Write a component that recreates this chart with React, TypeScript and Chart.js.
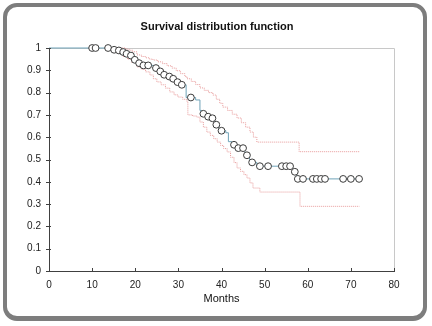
import React, { useEffect, useRef } from 'react';
import { Chart, registerables } from 'chart.js';
Chart.register(...registerables);

// Kaplan-Meier step function (event times and survival after each event)
const kmTimes = [0, 14.5, 15.7, 16.7, 17.6, 18.5, 19.4, 20.4, 21.4, 24.4, 25.3, 26.3, 27.3, 28.4, 29.3, 30.3, 31.8, 34.0, 35.0, 35.4, 36.4, 37.4, 38.4, 39.4, 41.0, 41.6, 42.4, 43.5, 45.4, 46.5, 46.8, 48.2, 56.5, 57.4, 72];
const kmSurv = [1, 0.992, 0.989, 0.982, 0.974, 0.966, 0.947, 0.932, 0.922, 0.91, 0.895, 0.88, 0.872, 0.862, 0.847, 0.835, 0.778, 0.767, 0.72, 0.705, 0.692, 0.685, 0.656, 0.629, 0.62, 0.58, 0.566, 0.551, 0.519, 0.5, 0.487, 0.47, 0.445, 0.413, 0.413];

// Censored observations
const censorTimes = [10.0, 10.8, 13.7, 15.1, 16.2, 17.2, 18.0, 19.0, 19.9, 20.9, 21.9, 23.0, 24.8, 25.8, 26.7, 27.9, 28.8, 29.8, 30.8, 32.9, 35.8, 36.9, 37.9, 38.8, 40.0, 42.9, 43.9, 45.0, 45.9, 47.1, 48.9, 50.8, 54.0, 55.0, 55.9, 57.0, 57.7, 58.9, 61.2, 62.1, 63.1, 64.0, 68.2, 70.0, 71.9];
const censorSurv = [1, 1, 1, 0.992, 0.989, 0.982, 0.974, 0.966, 0.947, 0.932, 0.922, 0.922, 0.91, 0.895, 0.88, 0.872, 0.862, 0.847, 0.835, 0.778, 0.705, 0.692, 0.685, 0.656, 0.629, 0.566, 0.551, 0.551, 0.519, 0.487, 0.47, 0.47, 0.47, 0.47, 0.47, 0.445, 0.413, 0.413, 0.413, 0.413, 0.413, 0.413, 0.413, 0.413, 0.413];

// Upper confidence bound
const upperTimes = [16.9, 17.8, 18.6, 19.4, 20.4, 21.4, 22.4, 23.3, 24.1, 25.2, 26.3, 27.4, 28.5, 29.5, 30.5, 31.5, 32.0, 33.0, 34.0, 35.0, 36.0, 37.0, 38.0, 38.8, 39.6, 40.3, 41.4, 42.5, 43.6, 44.6, 45.6, 46.6, 47.4, 48.2, 58.0, 72.0];
const upperSurv = [1, 0.995, 0.99, 0.983, 0.969, 0.962, 0.956, 0.95, 0.946, 0.938, 0.93, 0.92, 0.91, 0.898, 0.885, 0.872, 0.862, 0.85, 0.836, 0.821, 0.81, 0.8, 0.789, 0.77, 0.752, 0.735, 0.72, 0.703, 0.686, 0.665, 0.645, 0.623, 0.6, 0.578, 0.535, 0.535];

// Lower confidence bound
const lowerTimes = [14.5, 15.2, 16.2, 17.2, 18.2, 19.2, 20.4, 21.4, 22.4, 23.4, 24.2, 25.0, 26.0, 27.0, 28.0, 29.0, 29.9, 31.0, 32.0, 32.2, 33.3, 34.3, 35.0, 35.8, 36.6, 37.4, 38.2, 39.0, 39.8, 40.5, 41.3, 42.1, 42.9, 43.6, 44.4, 45.2, 45.9, 46.6, 47.3, 48.9, 58.2, 72.0];
const lowerSurv = [1, 0.985, 0.975, 0.962, 0.95, 0.935, 0.915, 0.905, 0.893, 0.879, 0.862, 0.848, 0.835, 0.82, 0.803, 0.79, 0.78, 0.77, 0.758, 0.7, 0.695, 0.69, 0.668, 0.645, 0.623, 0.608, 0.593, 0.578, 0.563, 0.549, 0.534, 0.51, 0.486, 0.462, 0.447, 0.432, 0.417, 0.395, 0.372, 0.354, 0.29, 0.29];

const xTicks = [0, 10, 20, 30, 40, 50, 60, 70, 80];
const xTickLabels = ['0', '10', '20', '30', '40', '50', '60', '70', '80'];
const yTicks = [0, 0.1, 0.2, 0.3, 0.4, 0.5, 0.6, 0.7, 0.8, 0.9, 1];
const yTickLabels = ['0', '0.1', '0.2', '0.3', '0.4', '0.5', '0.6', '0.7', '0.8', '0.9', '1'];
const chartTitle = 'Survival distribution function';
const xAxisTitle = 'Months';

const FONT = "'Liberation Sans', Arial, sans-serif";

const pts = (xs: number[], ys: number[]) => xs.map((x, i) => ({ x, y: ys[i] }));

const framePlugin = {
  id: 'frameLines',
  beforeDatasetsDraw(chart: any) {
    const { ctx, chartArea: a } = chart;
    ctx.save();
    ctx.strokeStyle = '#c8c8c8';
    ctx.lineWidth = 1;
    ctx.beginPath();
    ctx.moveTo(a.left, a.top + 0.5);
    ctx.lineTo(a.right + 0.5, a.top + 0.5);
    ctx.lineTo(a.right + 0.5, a.bottom);
    ctx.stroke();
    ctx.restore();
  },
  afterDraw(chart: any) {
    const { ctx, chartArea: a, scales } = chart;
    ctx.save();
    ctx.strokeStyle = '#404040';
    ctx.lineWidth = 1;
    ctx.beginPath();
    for (const v of yTicks) {
      const y = Math.round(scales.y.getPixelForValue(v)) + 0.5;
      ctx.moveTo(a.left - 3, y);
      ctx.lineTo(a.left + 2, y);
    }
    for (const v of xTicks) {
      const x = Math.round(scales.x.getPixelForValue(v)) + 0.5;
      ctx.moveTo(x, a.bottom - 3);
      ctx.lineTo(x, a.bottom + 1);
    }
    ctx.stroke();
    ctx.fillStyle = '#111111';
    ctx.font = `bold 11px ${FONT}`;
    ctx.textAlign = 'center';
    ctx.textBaseline = 'middle';
    ctx.fillText(chartTitle, (a.left + a.right) / 2 - 4.5, 26.5);
    ctx.restore();
  },
};

export default function App() {
  const ref = useRef<HTMLCanvasElement>(null);
  useEffect(() => {
    if (!ref.current) return;
    const chart = new Chart(ref.current, {
      type: 'scatter',
      data: {
        datasets: [
          {
            label: 'Censored',
            data: pts(censorTimes, censorSurv),
            showLine: false,
            pointRadius: 3.4,
            pointBackgroundColor: '#ffffff',
            pointBorderColor: '#3a3a3a',
            pointBorderWidth: 1,
            clip: false as any,
          },
          {
            label: 'Survival',
            data: pts(kmTimes, kmSurv),
            showLine: true,
            stepped: true,
            borderColor: '#6fa3b8',
            borderWidth: 1,
            pointRadius: 0,
            clip: false as any,
          },
          {
            label: 'Upper',
            data: pts(upperTimes, upperSurv),
            showLine: true,
            stepped: true,
            borderColor: '#e79a9a',
            borderWidth: 1,
            borderDash: [1, 1],
            pointRadius: 0,
            clip: false as any,
          },
          {
            label: 'Lower',
            data: pts(lowerTimes, lowerSurv),
            showLine: true,
            stepped: true,
            borderColor: '#e79a9a',
            borderWidth: 1,
            borderDash: [1, 1],
            pointRadius: 0,
            clip: false as any,
          },
        ],
      },
      options: {
        animation: false,
        responsive: false,
        events: [],
        layout: { padding: { left: 0, right: 38, top: 48, bottom: 0 } },
        plugins: {
          legend: { display: false },
          tooltip: { enabled: false },
          title: { display: false },
        },
        scales: {
          x: {
            type: 'linear',
            min: 0,
            max: 80,
            afterBuildTicks: (s: any) => { s.ticks = xTicks.map((v) => ({ value: v })); },
            afterFit: (s: any) => { s.height = 55; },
            ticks: {
              color: '#222222',
              font: { family: FONT, size: 10 },
              padding: 8,
              callback: (_v: any, i: number) => xTickLabels[i],
            },
            grid: { display: true, drawOnChartArea: false, drawTicks: false },
            border: { display: true, color: '#404040', width: 1 },
            title: {
              display: true,
              text: xAxisTitle,
              color: '#111111',
              font: { family: FONT, size: 11 },
              padding: { top: 0, bottom: 20.4 },
            },
          },
          y: {
            type: 'linear',
            min: 0,
            max: 1,
            afterBuildTicks: (s: any) => { s.ticks = yTicks.map((v) => ({ value: v })); },
            afterFit: (s: any) => { s.width = 49; },
            ticks: {
              color: '#222222',
              font: { family: FONT, size: 10 },
              padding: 8,
              callback: (_v: any, i: number) => yTickLabels[i],
            },
            grid: { display: true, drawOnChartArea: false, drawTicks: false },
            border: { display: true, color: '#404040', width: 1 },
          },
        },
      },
      plugins: [framePlugin],
    });
    return () => chart.destroy();
  }, []);

  return (
    <div style={{ position: 'fixed', left: 0, top: 0, width: 432, height: 326, background: '#ffffff' }}>
      <canvas ref={ref} width={432} height={326} style={{ position: 'absolute', left: 0, top: 0, width: 432, height: 326 }} />
      <div
        style={{
          position: 'absolute',
          left: 3,
          top: 3,
          width: 424,
          height: 318,
          boxSizing: 'border-box',
          border: '4px solid #7d7d7d',
          borderBottomWidth: 5,
          borderRadius: 14,
          pointerEvents: 'none',
        }}
      />
    </div>
  );
}
